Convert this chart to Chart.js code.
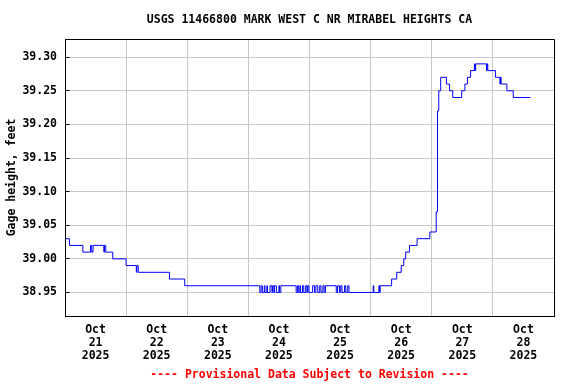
<!DOCTYPE html>
<html><head><meta charset="utf-8">
<script src="https://cdn.jsdelivr.net/npm/chart.js@4/dist/chart.umd.min.js"></script>
<style>html,body{margin:0;padding:0;background:#fff}#wrap{width:576px;height:384px}</style>
</head><body><div id="wrap"><canvas id="c" width="576" height="384"></canvas></div>
<script>
const titleText = 'USGS 11466800 MARK WEST C NR MIRABEL HEIGHTS CA';
const footerText = '---- Provisional Data Subject to Revision ----';
const yAxisTitle = 'Gage height, feet';
const dayLabels = [
  ['Oct','21','2025'],['Oct','22','2025'],['Oct','23','2025'],['Oct','24','2025'],
  ['Oct','25','2025'],['Oct','26','2025'],['Oct','27','2025'],['Oct','28','2025']
];
const yTicks = [38.95, 39.00, 39.05, 39.10, 39.15, 39.20, 39.25, 39.30];
const startTime = '2025-10-21T00:00';

// change points of the stage record (value holds until the next time)
const times = [
 '2025-10-21T00:00','2025-10-21T01:45','2025-10-21T07:00','2025-10-21T10:00','2025-10-21T10:30',
 '2025-10-21T11:00','2025-10-21T15:15','2025-10-21T15:30','2025-10-21T16:00','2025-10-21T18:45',
 '2025-10-22T00:00','2025-10-22T04:00','2025-10-22T04:15','2025-10-22T04:45','2025-10-22T17:00',
 '2025-10-22T23:00',
 '2025-10-24T04:30','2025-10-24T05:00','2025-10-24T05:30','2025-10-24T06:15','2025-10-24T06:30',
 '2025-10-24T07:15','2025-10-24T07:30','2025-10-24T08:30','2025-10-24T09:15','2025-10-24T09:30',
 '2025-10-24T10:00','2025-10-24T10:15','2025-10-24T11:00','2025-10-24T12:00','2025-10-24T12:15',
 '2025-10-24T12:45','2025-10-24T18:45','2025-10-24T19:15','2025-10-24T19:45','2025-10-24T20:15',
 '2025-10-24T20:30','2025-10-24T21:15','2025-10-24T21:45','2025-10-24T22:30','2025-10-24T23:00',
 '2025-10-24T23:15','2025-10-24T23:45','2025-10-25T01:15','2025-10-25T02:00','2025-10-25T02:30',
 '2025-10-25T03:15','2025-10-25T04:00','2025-10-25T04:30','2025-10-25T05:15','2025-10-25T05:45',
 '2025-10-25T06:15','2025-10-25T10:30','2025-10-25T11:00','2025-10-25T11:45','2025-10-25T12:15',
 '2025-10-25T12:45','2025-10-25T13:45','2025-10-25T14:15','2025-10-25T15:00','2025-10-25T15:30',
 '2025-10-26T01:00','2025-10-26T01:15','2025-10-26T03:15','2025-10-26T03:30','2025-10-26T03:45',
 '2025-10-26T08:15','2025-10-26T10:15','2025-10-26T12:00','2025-10-26T13:00','2025-10-26T13:45',
 '2025-10-26T15:15','2025-10-26T18:15','2025-10-26T23:15',
 '2025-10-27T01:45','2025-10-27T02:15','2025-10-27T02:45','2025-10-27T03:30','2025-10-27T05:45',
 '2025-10-27T07:00','2025-10-27T08:15','2025-10-27T11:45','2025-10-27T13:00','2025-10-27T14:00',
 '2025-10-27T15:15','2025-10-27T16:45','2025-10-27T17:00','2025-10-27T17:15','2025-10-27T21:30',
 '2025-10-27T21:45','2025-10-27T22:00',
 '2025-10-28T01:00','2025-10-28T02:45','2025-10-28T03:00','2025-10-28T03:15','2025-10-28T05:30',
 '2025-10-28T08:00','2025-10-28T14:45'
];
const gageHeight = [
 39.03,39.02,39.01,39.02,39.01,
 39.02,39.01,39.02,39.01,39.00,
 38.99,38.98,38.99,38.98,38.97,
 38.96,
 38.95,38.96,38.95,38.96,38.95,
 38.96,38.95,38.96,38.95,38.96,
 38.95,38.96,38.95,38.96,38.95,
 38.96,38.95,38.96,38.95,38.96,
 38.95,38.96,38.95,38.96,38.95,
 38.96,38.95,38.96,38.95,38.96,
 38.95,38.96,38.95,38.96,38.95,
 38.96,38.95,38.96,38.95,38.96,
 38.95,38.96,38.95,38.96,38.95,
 38.96,38.95,38.96,38.95,38.96,
 38.97,38.98,38.99,39.00,39.01,
 39.02,39.03,39.04,
 39.07,39.22,39.25,39.27,39.26,
 39.25,39.24,39.25,39.26,39.27,
 39.28,39.29,39.28,39.29,39.28,
 39.29,39.28,
 39.27,39.26,39.27,39.26,39.25,
 39.24,39.24
];

const t0 = Date.parse(startTime + 'Z');
const toDays = s => (Date.parse(s + 'Z') - t0) / 864e5;
const points = times.map((s, i) => ({x: toDays(s), y: gageHeight[i]}));

const FONT = 'DejaVu Sans Mono';

const frame = {
  id: 'frame',
  afterDraw(chart) {
    const {ctx, chartArea: a} = chart;
    const ys = chart.scales.y;
    ctx.save();
    ctx.strokeStyle = '#000';
    ctx.lineWidth = 1;
    const L = Math.floor(a.left) + 0.5, R = Math.floor(a.right) + 0.5;
    const T = Math.floor(a.top) + 0.5, B = Math.floor(a.bottom) + 0.5;
    ctx.beginPath();
    ctx.moveTo(L, T); ctx.lineTo(R, T); ctx.lineTo(R, B); ctx.lineTo(L, B); ctx.closePath();
    ctx.stroke();
    ctx.beginPath();
    ys.ticks.forEach(t => {
      const p = Math.floor(ys.getPixelForValue(t.value)) + 0.5;
      ctx.moveTo(L, p); ctx.lineTo(L + 4, p);
    });
    ctx.stroke();
    ctx.restore();
  }
};

new Chart(document.getElementById('c'), {
  type: 'line',
  data: {
    datasets: [{
      data: points,
      borderColor: '#0000ff',
      borderWidth: 1,
      pointRadius: 0,
      stepped: 'before',
      fill: false
    }]
  },
  options: {
    responsive: false,
    animation: false,
    devicePixelRatio: 1,
    layout: {padding: {left: 0, right: 22, top: 0, bottom: 0}},
    plugins: {
      legend: {display: false},
      tooltip: {enabled: false},
      title: {
        display: true, text: titleText, fullSize: false, color: '#000',
        font: {family: FONT, weight: 'bold', size: 11.5, lineHeight: 1.2},
        padding: {top: 13, bottom: 12.2}
      },
      subtitle: {
        display: true, text: footerText, position: 'bottom', fullSize: false, color: '#ff0000',
        font: {family: FONT, weight: 'bold', size: 11.5, lineHeight: 1.2},
        padding: {top: 6, bottom: 2.2}
      }
    },
    scales: {
      x: {
        type: 'linear', min: 0, max: 8,
        afterBuildTicks(scale) {
          const t = [];
          for (let i = 0; i <= 8; i++) { t.push({value: i}); if (i < 8) t.push({value: i + 0.5}); }
          scale.ticks = t;
        },
        afterFit(scale) { scale.height = 46; },
        ticks: {
          autoSkip: false, maxRotation: 0, minRotation: 0, color: '#000', padding: 8,
          font: {family: FONT, weight: 'bold', size: 11.5, lineHeight: '13px'},
          callback: v => Number.isInteger(v) ? '' : dayLabels[Math.floor(v)]
        },
        grid: {
          drawTicks: false,
          color: c => (c.tick && Number.isInteger(c.tick.value)) ? '#c8c8c8' : 'rgba(0,0,0,0)',
          lineWidth: 1
        },
        border: {display: true, color: '#000', width: 1}
      },
      y: {
        type: 'linear', min: 38.915, max: 39.327,
        afterBuildTicks(scale) { scale.ticks = yTicks.map(v => ({value: v})); },
        afterFit(scale) { scale.width = 65; },
        ticks: {
          color: '#000', padding: 8,
          font: {family: FONT, weight: 'bold', size: 11.5},
          callback: v => Number(v).toFixed(2)
        },
        grid: {drawTicks: false, color: '#c8c8c8', lineWidth: 1},
        border: {display: true, color: '#000', width: 1},
        title: {
          display: true, text: yAxisTitle, color: '#000',
          font: {family: FONT, weight: 'bold', size: 11.5},
          padding: {top: 5, bottom: 0}
        }
      }
    }
  },
  plugins: [frame]
});
</script>
</body></html>
